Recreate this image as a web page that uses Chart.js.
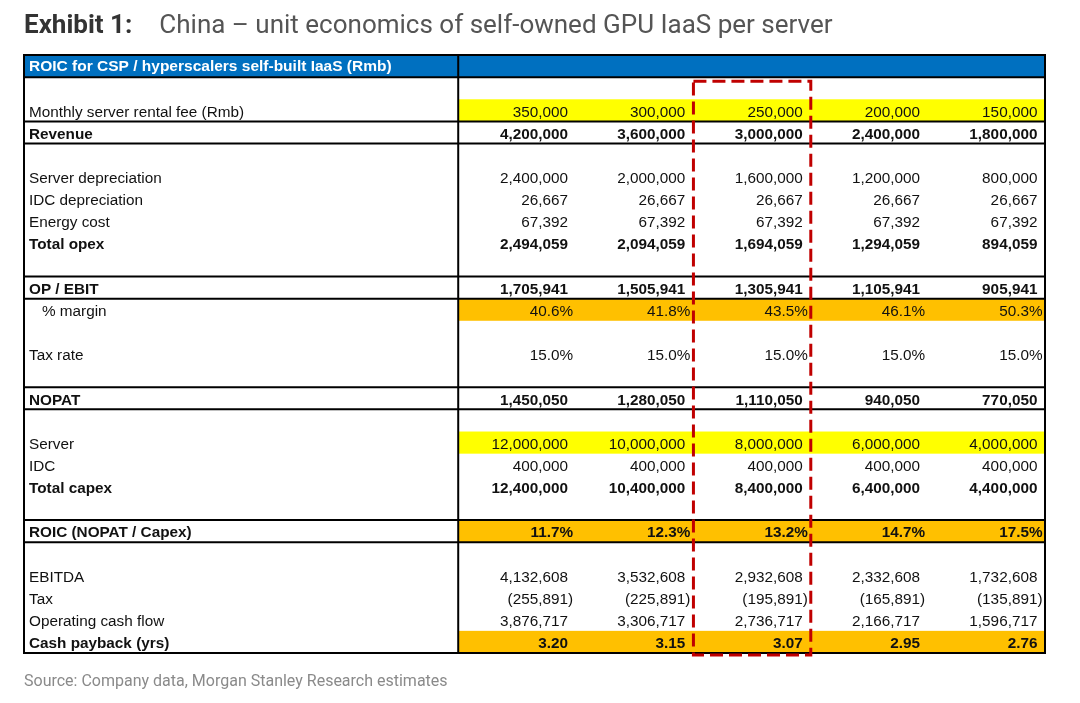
<!DOCTYPE html>
<html>
<head>
<meta charset="utf-8">
<script src="https://cdn.jsdelivr.net/npm/chart.js@4.4.1/dist/chart.umd.min.js"></script>
<style>
  html, body { margin: 0; padding: 0; background: #fff; }
  .page { position: relative; width: 1080px; height: 703px; overflow: hidden; }
  #table { position: absolute; left: 0; top: 0; }
  .exhibit { position: absolute; left: 24px; top: 9px; font-family: Roboto, sans-serif; font-size: 26px; color: #555; white-space: nowrap; }
  .exhibit b { color: #333; font-weight: 700; margin-right: 27px; }
  .source { position: absolute; left: 24px; top: 671px; font-family: Roboto, sans-serif; font-size: 16px; color: #8a8a8a; white-space: nowrap; }
</style>
</head>
<body>
<div class="page">
  <canvas id="table" width="1080" height="703"></canvas>
  <div class="exhibit"><b>Exhibit 1:</b>China – unit economics of self-owned GPU IaaS per server</div>
  <div class="source">Source: Company data, Morgan Stanley Research estimates</div>
</div>
<script>
// scenario columns = monthly rental fee per server (Rmb)
const rentalFee = [350000, 300000, 250000, 200000, 150000];
const revenue = [4200000, 3600000, 3000000, 2400000, 1800000];
const serverDep = [2400000, 2000000, 1600000, 1200000, 800000];
const idcDep = [26667, 26667, 26667, 26667, 26667];
const energyCost = [67392, 67392, 67392, 67392, 67392];
const totalOpex = [2494059, 2094059, 1694059, 1294059, 894059];
const ebit = [1705941, 1505941, 1305941, 1105941, 905941];
const margin = [40.6, 41.8, 43.5, 46.1, 50.3];
const taxRate = [15.0, 15.0, 15.0, 15.0, 15.0];
const nopat = [1450050, 1280050, 1110050, 940050, 770050];
const serverCapex = [12000000, 10000000, 8000000, 6000000, 4000000];
const idcCapex = [400000, 400000, 400000, 400000, 400000];
const totalCapex = [12400000, 10400000, 8400000, 6400000, 4400000];
const roic = [11.7, 12.3, 13.2, 14.7, 17.5];
const ebitda = [4132608, 3532608, 2932608, 2332608, 1732608];
const tax = [-255891, -225891, -195891, -165891, -135891];
const opCashFlow = [3876717, 3306717, 2736717, 2166717, 1596717];
const payback = [3.20, 3.15, 3.07, 2.95, 2.76];

const headerLabel = 'ROIC for CSP / hyperscalers self-built IaaS (Rmb)';
const highlightCol = 2;

// one entry per table line, blank lines are null
const rows = [
  null, // header band
  null,
  { label: 'Monthly server rental fee (Rmb)', values: rentalFee, fmt: 'num', fill: 'yellow' },
  { label: 'Revenue', values: revenue, fmt: 'num', bold: true },
  null,
  { label: 'Server depreciation', values: serverDep, fmt: 'num' },
  { label: 'IDC depreciation', values: idcDep, fmt: 'num' },
  { label: 'Energy cost', values: energyCost, fmt: 'num' },
  { label: 'Total opex', values: totalOpex, fmt: 'num', bold: true },
  null,
  { label: 'OP / EBIT', values: ebit, fmt: 'num', bold: true },
  { label: '% margin', values: margin, fmt: 'pct', fill: 'orange', indent: true },
  null,
  { label: 'Tax rate', values: taxRate, fmt: 'pct' },
  null,
  { label: 'NOPAT', values: nopat, fmt: 'num', bold: true },
  null,
  { label: 'Server', values: serverCapex, fmt: 'num', fill: 'yellow' },
  { label: 'IDC', values: idcCapex, fmt: 'num' },
  { label: 'Total capex', values: totalCapex, fmt: 'num', bold: true },
  null,
  { label: 'ROIC (NOPAT / Capex)', values: roic, fmt: 'pct', fill: 'orange', bold: true },
  null,
  { label: 'EBITDA', values: ebitda, fmt: 'num' },
  { label: 'Tax', values: tax, fmt: 'num' },
  { label: 'Operating cash flow', values: opCashFlow, fmt: 'num' },
  { label: 'Cash payback (yrs)', values: payback, fmt: 'dec', fill: 'orange', bold: true }
];

// row boundaries that get a black rule
const rules = [1, 3, 4, 10, 11, 15, 16, 21, 22];

const fills = { yellow: '#FFFF00', orange: '#FFC000' };
const labelColWidth = 3.70; // in value-column units

const formatValue = (v, fmt) => {
  if (fmt === 'pct') return v.toFixed(1) + '%';
  if (fmt === 'dec') return v.toFixed(2);
  const s = Math.abs(v).toLocaleString('en-US');
  return v < 0 ? '(' + s + ')' : s;
};

const tablePlugin = {
  id: 'tablePlugin',
  beforeDatasetsDraw(chart) {
    const { ctx, chartArea: a } = chart;
    const x = chart.scales.x;
    const y = chart.scales.y;
    const colX = (i) => x.getPixelForValue(i);
    const rowY = (r) => y.getPixelForValue(r);
    const nCols = rentalFee.length;

    ctx.save();

    // header band
    ctx.fillStyle = '#0070C0';
    ctx.fillRect(a.left, rowY(0), a.right - a.left, rowY(1) - rowY(0));
    ctx.fillStyle = '#fff';
    ctx.font = 'bold 15.5px "Liberation Sans", Arial, sans-serif';
    ctx.textBaseline = 'middle';
    ctx.textAlign = 'left';
    ctx.fillText(headerLabel, a.left + 5, (rowY(0) + rowY(1)) / 2 + 1);

    // coloured bands
    rows.forEach((row, r) => {
      if (!row || !row.fill) return;
      ctx.fillStyle = fills[row.fill];
      ctx.fillRect(colX(0), rowY(r), colX(nCols) - colX(0), rowY(r + 1) - rowY(r));
    });

    // text
    rows.forEach((row, r) => {
      if (!row) return;
      const cy = (rowY(r) + rowY(r + 1)) / 2 + 2;
      ctx.font = (row.bold ? 'bold ' : '') + '15.3px "Liberation Sans", Arial, sans-serif';
      ctx.fillStyle = '#111';
      ctx.textAlign = 'left';
      ctx.fillText(row.label, a.left + (row.indent ? 18 : 5), cy);
      ctx.textAlign = 'right';
      const pad = ctx.measureText(')').width;
      row.values.forEach((v, i) => {
        const txt = formatValue(v, row.fmt);
        const flush = row.fmt === 'pct' || v < 0;
        ctx.fillText(txt, colX(i + 1) - 2.5 - (flush ? 0 : pad), cy);
      });
    });

    // rules
    ctx.strokeStyle = '#000';
    ctx.lineWidth = 2;
    rules.forEach((r) => {
      const yy = rowY(r);
      ctx.beginPath();
      ctx.moveTo(a.left, yy);
      ctx.lineTo(a.right, yy);
      ctx.stroke();
    });
    ctx.beginPath();
    ctx.moveTo(colX(0), a.top);
    ctx.lineTo(colX(0), a.bottom);
    ctx.stroke();
    ctx.strokeRect(a.left, a.top, a.right - a.left, a.bottom - a.top);

    // highlighted scenario
    ctx.strokeStyle = '#C00000';
    ctx.lineWidth = 3;
    ctx.setLineDash([13, 6]);
    ctx.strokeRect(colX(highlightCol) + 0.5, rowY(1) + 4, colX(highlightCol + 1) - colX(highlightCol), rowY(rows.length) - rowY(1) - 2);
    ctx.restore();
  }
};

new Chart(document.getElementById('table'), {
  type: 'scatter',
  data: { datasets: [] },
  options: {
    responsive: false,
    animation: false,
    devicePixelRatio: 1,
    layout: { padding: { left: 24, right: 35, top: 55, bottom: 50 } },
    plugins: { legend: { display: false }, tooltip: { enabled: false } },
    scales: {
      x: { type: 'linear', min: -labelColWidth, max: rentalFee.length, display: false },
      y: { type: 'linear', min: 0, max: rows.length, reverse: true, display: false }
    }
  },
  plugins: [tablePlugin]
});
</script>
</body>
</html>
